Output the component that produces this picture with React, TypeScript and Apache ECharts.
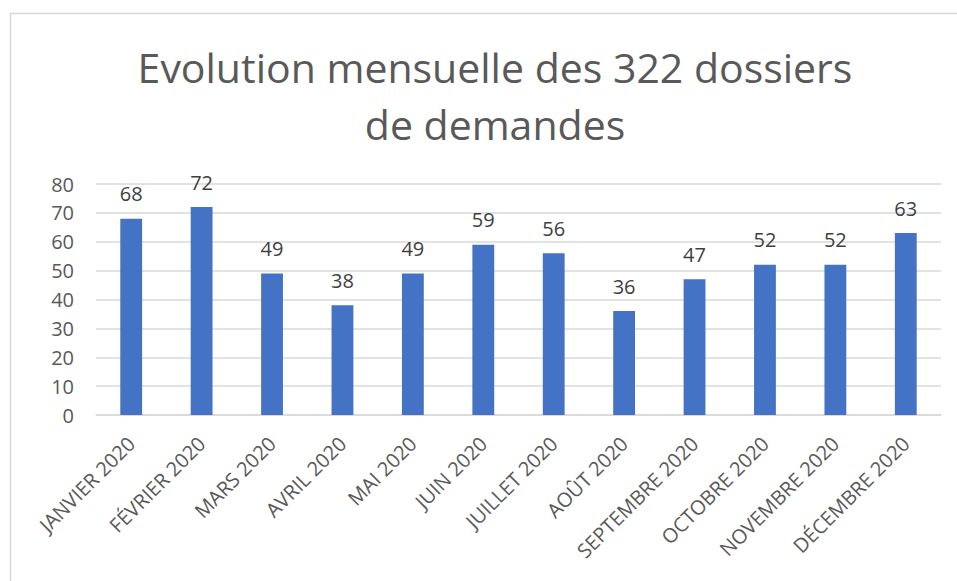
import React, { useEffect, useRef } from "react";
import * as echarts from "echarts";

const titleLines = ["Evolution mensuelle des 322 dossiers", "de demandes"];
const months = [
  "JANVIER 2020",
  "FÉVRIER 2020",
  "MARS 2020",
  "AVRIL 2020",
  "MAI 2020",
  "JUIN 2020",
  "JUILLET 2020",
  "AOÛT 2020",
  "SEPTEMBRE 2020",
  "OCTOBRE 2020",
  "NOVEMBRE 2020",
  "DÉCEMBRE 2020",
];
const dossiers = [68, 72, 49, 38, 49, 59, 56, 36, 47, 52, 52, 63];
const yMin = 0;
const yMax = 80;
const yStep = 10;

const FONT = "'Open Sans', 'Noto Sans', sans-serif";

export default function App() {
  const ref = useRef<HTMLDivElement>(null);
  useEffect(() => {
    document.body.style.margin = "0";
    if (!ref.current) return;
    const chart = echarts.init(ref.current, null, { renderer: "svg" });
    chart.setOption({
      animation: false,
      backgroundColor: "#ffffff",
      title: {
        text: titleLines.join("\n"),
        left: 490,
        top: 33,
        textAlign: "center",
        textStyle: {
          fontFamily: FONT,
          fontSize: 41,
          fontWeight: "normal",
          color: "#595959",
          lineHeight: 57,
        },
      },
      graphic: [
        {
          type: "rect",
          shape: { x: 10.5, y: 13.5, width: 1000, height: 1000 },
          style: { fill: "none", stroke: "#d9d9d9", lineWidth: 1.5 },
          silent: true,
        },
      ],
      grid: { left: 96, right: 16, top: 184, bottom: 166, containLabel: false },
      xAxis: {
        type: "category",
        data: months,
        axisLine: { show: true, lineStyle: { color: "#d9d9d9", width: 1.5 } },
        axisTick: { show: false },
        axisLabel: {
          rotate: 45,
          interval: 0,
          margin: 25,
          fontFamily: FONT,
          fontSize: 20,
          color: "#595959",
        },
      },
      yAxis: {
        type: "value",
        min: yMin,
        max: yMax,
        interval: yStep,
        axisLine: { show: false },
        axisTick: { show: false },
        splitLine: { lineStyle: { color: "#d9d9d9", width: 1.5 } },
        axisLabel: {
          margin: 22,
          fontFamily: FONT,
          fontSize: 20,
          color: "#595959",
        },
      },
      series: [
        {
          type: "bar",
          data: dossiers,
          barWidth: "31%",
          itemStyle: { color: "#4472c4" },
          label: {
            show: true,
            position: "top",
            distance: 15,
            fontFamily: FONT,
            fontSize: 20,
            color: "#404040",
          },
        },
      ],
    });
    return () => chart.dispose();
  }, []);
  return <div ref={ref} style={{ width: 957, height: 581 }} />;
}
